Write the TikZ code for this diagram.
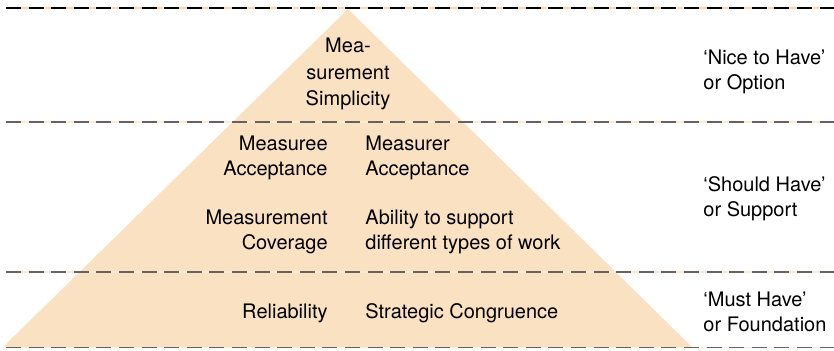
\documentclass[tikz,border=0pt]{standalone}
\usepackage{fontspec}
\setmainfont{TeX Gyre Heros}
\usepackage{tikz}
\usetikzlibrary{positioning}
\definecolor{pyramidfill}{HTML}{F9E1C1}
\definecolor{levelgray}{HTML}{666262}
\tikzset{
    levelback/.style={draw=pyramidfill!70, line width=0.6pt},
    levelline/.style={draw=levelgray, line width=0.65pt, dash pattern=on 7.5pt off 3.8pt},
    leftlabel/.style={anchor=east, align=right, inner sep=0pt},
    rightlabel/.style={anchor=west, align=left, inner sep=0pt},
    priority/.style={anchor=west, align=left, inner sep=0pt}
}

\begin{document}
\begin{tikzpicture}[
    x=0.5pt, y=0.5pt,
    every node/.style={font=\fontsize{10}{12.5}\selectfont}
]
    \useasboundingbox (0,0) rectangle (834,350);

    % pyramid
    \coordinate (apex) at (348,341);
    \coordinate (baseL) at (3,3);
    \coordinate (baseR) at (692,3);
    \fill[pyramidfill] (apex) -- (baseL) -- (baseR) -- cycle;

    % level separators
    \foreach \ly in {228,78,2.5}{
        \draw[levelback] (6,\ly) -- (834,\ly);
        \draw[levelline] (6,\ly) -- (834,\ly);
    }
    \draw[levelback, draw=pyramidfill!90!orange] (6,342) -- (834,342);
    \draw[levelline, draw=black] (6,342) -- (834,342);

    % top level
    \node[align=center, inner sep=0pt, font=\fontsize{10}{13.3}\selectfont] (simplicity) at (348,276) {Mea-\\surement\\Simplicity};
    \node[priority] (nice) at (703,278.5) {`Nice to Have'\\or Option};

    % middle level
    \node[leftlabel] (measuree) at (328,192.5) {Measuree\\Acceptance};
    \node[rightlabel] (measurer) at (365,192.5) {Measurer\\Acceptance};
    \node[leftlabel] (coverage) at (328,118) {Measurement\\Coverage};
    \node[rightlabel] (ability) at (365,118) {Ability to support\\different types of work};
    \node[priority] (should) at (703,151) {`Should Have'\\or Support};

    % bottom level
    \node[leftlabel] (reliability) at (328,37) {Reliability};
    \node[rightlabel] (congruence) at (365,37) {Strategic Congruence};
    \node[priority] (must) at (703,38.5) {`Must Have'\\or Foundation};
\end{tikzpicture}
\end{document}
